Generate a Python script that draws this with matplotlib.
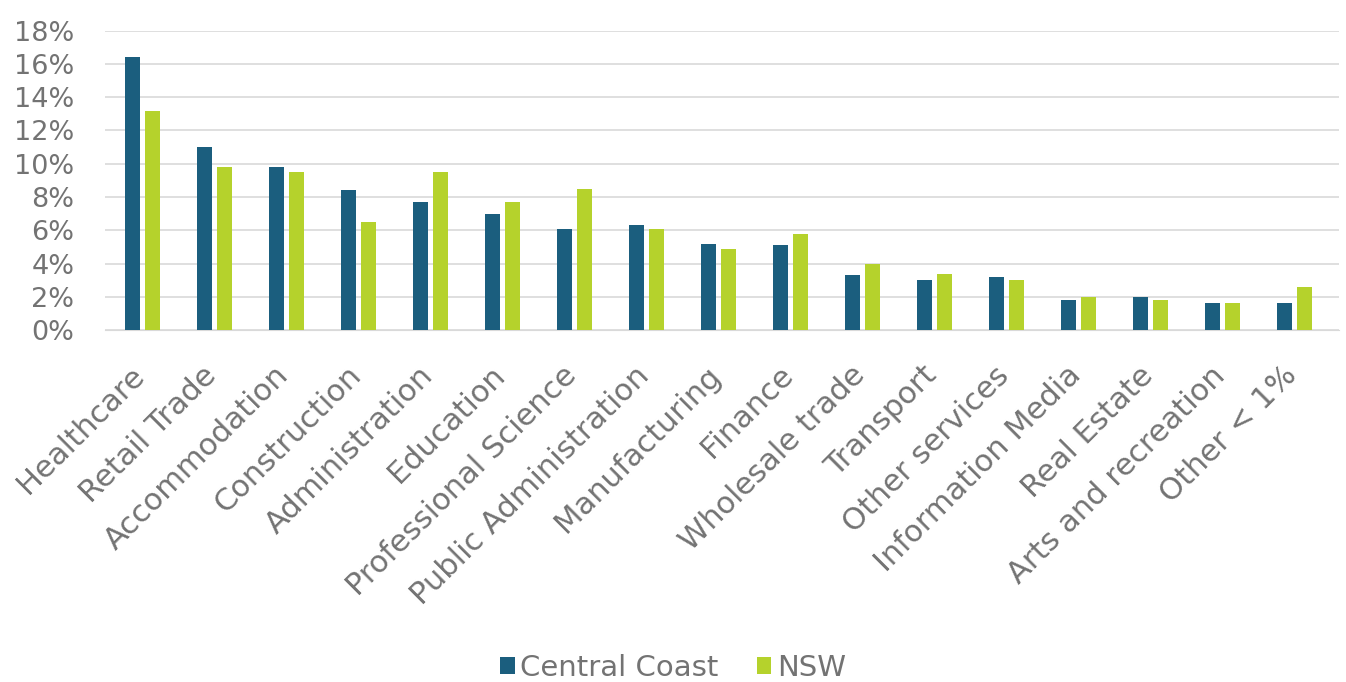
import matplotlib.pyplot as plt
import numpy as np
from matplotlib.ticker import FuncFormatter
from matplotlib.transforms import ScaledTranslation

categories = ['Healthcare', 'Retail Trade', 'Accommodation', 'Construction',
              'Administration', 'Education', 'Professional Science',
              'Public Administration', 'Manufacturing', 'Finance',
              'Wholesale trade', 'Transport', 'Other services',
              'Information Media', 'Real Estate', 'Arts and recreation',
              'Other < 1%']
central_coast = [16.4, 11.0, 9.8, 8.4, 7.7, 7.0, 6.1, 6.3, 5.2, 5.1,
                 3.3, 3.0, 3.2, 1.8, 2.0, 1.6, 1.6]
nsw = [13.2, 9.8, 9.5, 6.5, 9.5, 7.7, 8.5, 6.1, 4.9, 5.8,
       4.0, 3.4, 3.0, 2.0, 1.8, 1.6, 2.6]
y_ticks = [0, 2, 4, 6, 8, 10, 12, 14, 16, 18]

CC_COLOR = '#1b5e7e'
NSW_COLOR = '#b5d22c'
TEXT = '#737373'

plt.rcParams['font.family'] = ['DejaVu Sans']

fig = plt.figure(figsize=(13.46, 6.82), dpi=100)
ax = fig.add_axes([0.078, 0.516, 0.917, 0.439])

x = np.arange(len(categories))
w = 0.21
ax.bar(x - 0.143, central_coast, w, color=CC_COLOR, label='Central Coast', zorder=3)
ax.bar(x + 0.143, nsw, w, color=NSW_COLOR, label='NSW', zorder=3)

ax.set_xlim(-0.52, len(categories) - 0.38)
ax.set_ylim(0, 18)
ax.set_yticks(y_ticks)
ax.yaxis.set_major_formatter(FuncFormatter(lambda v, _: f'{v:.0f}%'))
ax.grid(True, axis='y', color='#d9d9d9', linewidth=1.2, zorder=0)

ax.set_xticks(x)
ax.set_xticklabels(categories, rotation=45, ha='right', rotation_mode='anchor',
                   fontsize=22, color=TEXT)
ax.tick_params(axis='y', labelsize=19.5, labelcolor=TEXT, length=0, pad=22)
ax.tick_params(axis='x', length=0, pad=22)
# nudge rotated labels left so their ends sit over the bar groups
shift = ScaledTranslation(-9 / 72, 0, fig.dpi_scale_trans)
for lbl in ax.get_xticklabels():
    lbl.set_transform(lbl.get_transform() + shift)

for spine in ['top', 'right', 'left']:
    ax.spines[spine].set_visible(False)
ax.spines['bottom'].set_color('#d9d9d9')

fig.legend(loc='center', bbox_to_anchor=(0.5, 1 - 668 / 682), ncol=2, frameon=False,
           fontsize=21, labelcolor=TEXT, handlelength=0.5, handleheight=0.5,
           handletextpad=0.2, columnspacing=1.3)

fig.savefig('out.png', dpi=100)
plt.close(fig)
